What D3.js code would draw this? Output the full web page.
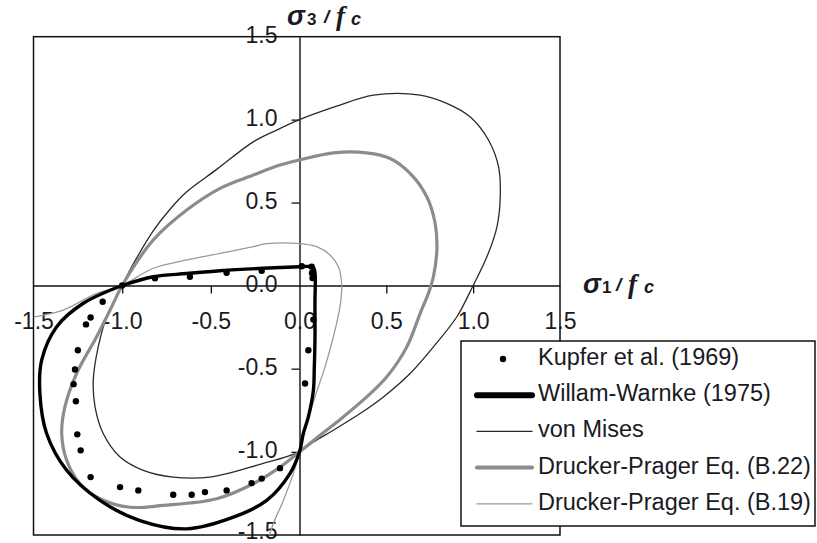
<!DOCTYPE html>
<html>
<head>
<meta charset="utf-8">
<script src="https://cdn.jsdelivr.net/npm/d3@7"></script>
<style>
  html, body { margin: 0; padding: 0; background: #fff; }
  svg { display: block; }
  text { font-family: "Liberation Sans", Arial, sans-serif; fill: #1a1a24; }
</style>
</head>
<body>
<svg id="chart" width="817" height="543"></svg>
<script>
// Biaxial failure envelopes, stresses normalised by fc (σ2 = 0)
const xTicks = [-1.5, -1.0, -0.5, 0.0, 0.5, 1.0, 1.5];
const yTicks = [-1.5, -1.0, -0.5, 0.0, 0.5, 1.0, 1.5];

const seriesNames = [
  "Kupfer et al. (1969)",
  "Willam-Warnke (1975)",
  "von Mises",
  "Drucker-Prager Eq. (B.22)",
  "Drucker-Prager Eq. (B.19)"
];

// Kupfer et al. test points [σ1/fc, σ3/fc]
const kupfer = [
  [-1.0, 0.0], [-0.815, 0.043], [-0.618, 0.053], [-0.411, 0.077], [-0.213, 0.089],
  [0.013, 0.116], [0.07, 0.113], [0.072, 0.075], [0.075, 0.045],
  [0.08, -0.205], [0.051, -0.389], [0.032, -0.589],
  [-0.110, -1.098], [-0.213, -1.161], [-0.270, -1.188], [-0.411, -1.232], [-0.533, -1.242],
  [-0.608, -1.258], [-0.712, -1.258], [-0.909, -1.232], [-1.012, -1.212], [-1.178, -1.152],
  [-1.234, -0.991], [-1.253, -0.895], [-1.261, -0.696], [-1.274, -0.593], [-1.266, -0.505],
  [-1.250, -0.389], [-1.204, -0.234], [-1.178, -0.192], [-1.110, -0.098]
];

// Willam-Warnke (1975) envelope
const willamWarnke = [
  [-1.0, 0.0], [-0.825, 0.053], [-0.636, 0.072], [-0.448, 0.089], [-0.204, 0.104],
  [0.0, 0.113], [0.05, 0.115], [0.08, 0.108], [0.089, 0.08], [0.089, -0.1],
  [0.089, -0.328], [0.085, -0.5], [0.080, -0.630], [0.051, -0.790], [0.022, -0.890],
  [0.0, -1.0], [-0.054, -1.131], [-0.185, -1.292], [-0.373, -1.393], [-0.636, -1.463],
  [-0.900, -1.413], [-1.125, -1.292], [-1.313, -1.111], [-1.426, -0.890], [-1.464, -0.649],
  [-1.454, -0.449], [-1.369, -0.248], [-1.219, -0.107], [-1.0, 0.0]
];

// von Mises envelope (closed)
const vonMises = [
  [-1.0, 0.0], [-0.937, 0.13], [-0.825, 0.33], [-0.730, 0.46], [-0.636, 0.565],
  [-0.467, 0.70], [-0.261, 0.866], [-0.129, 0.937], [0.0, 1.0], [0.214, 1.081],
  [0.425, 1.148], [0.695, 1.148], [0.848, 1.098], [0.982, 1.017], [1.088, 0.877],
  [1.146, 0.716], [1.156, 0.535], [1.137, 0.354], [1.079, 0.173], [1.0, 0.0],
  [0.906, -0.188], [0.771, -0.369], [0.637, -0.529], [0.483, -0.670], [0.349, -0.770],
  [0.195, -0.870], [0.080, -0.941], [0.0, -1.0], [-0.223, -1.075], [-0.505, -1.152],
  [-0.712, -1.152], [-0.881, -1.111], [-1.012, -1.031], [-1.107, -0.890], [-1.153, -0.730],
  [-1.163, -0.569], [-1.135, -0.369], [-1.087, -0.188]
];

// Drucker-Prager Eq. (B.22) envelope (closed)
const druckerPragerB22 = [
  [-1.0, 0.0], [-0.825, 0.274], [-0.636, 0.455], [-0.448, 0.586], [-0.261, 0.666],
  [-0.110, 0.726], [0.061, 0.772], [0.195, 0.800], [0.387, 0.800], [0.522, 0.766],
  [0.637, 0.676], [0.733, 0.535], [0.781, 0.375], [0.791, 0.214], [0.771, 0.053],
  [0.745, -0.04], [0.695, -0.167], [0.618, -0.369], [0.503, -0.549], [0.387, -0.670],
  [0.252, -0.790], [0.118, -0.901], [0.0, -1.0], [-0.110, -1.092], [-0.261, -1.192],
  [-0.467, -1.282], [-0.768, -1.322], [-0.956, -1.333], [-1.125, -1.282], [-1.238, -1.192],
  [-1.313, -1.051], [-1.341, -0.890], [-1.323, -0.730], [-1.257, -0.529], [-1.144, -0.308],
  [-1.059, -0.128]
];

// Drucker-Prager Eq. (B.19) envelope (open)
const druckerPragerB19 = [
  [-1.5, -0.19], [-1.332, -0.148], [-1.144, -0.047], [-1.0, 0.0], [-0.825, 0.104],
  [-0.636, 0.154], [-0.448, 0.194], [-0.261, 0.234], [-0.185, 0.252], [-0.016, 0.254],
  [0.099, 0.234], [0.176, 0.184], [0.224, 0.113], [0.243, 0.003], [0.233, -0.128],
  [0.195, -0.308], [0.147, -0.489], [0.089, -0.670], [0.041, -0.830], [0.0, -1.0],
  [-0.035, -1.131], [-0.091, -1.292], [-0.148, -1.432], [-0.175, -1.52]
];

const svg = d3.select("#chart");
// plain hyphen-minus for negative tick labels
const fmt = d3.formatLocale({ decimal: ".", thousands: ",", grouping: [3], currency: ["", ""], minus: "-" }).format(".1f");

const x = d3.scaleLinear().domain([-1.5, 0, 1.5]).range([33.5, 299.5, 560]);
const y = d3.scaleLinear().domain([-1.5, 0, 1.5]).range([535, 285.5, 36.7]);

svg.append("defs").append("clipPath").attr("id", "plotClip")
  .append("rect")
  .attr("x", x(-1.5)).attr("y", y(1.5))
  .attr("width", x(1.5) - x(-1.5)).attr("height", y(-1.5) - y(1.5));

// Tick labels along the axes through the origin
const xAxis = svg.append("g")
  .attr("transform", `translate(0,${y(0)})`)
  .call(d3.axisBottom(x).tickValues(xTicks).tickFormat(fmt).tickSize(8).tickSizeOuter(0).tickPadding(19));
const yAxis = svg.append("g")
  .attr("transform", `translate(${x(0)},0)`)
  .call(d3.axisLeft(y).tickValues(yTicks).tickFormat(fmt).tickSize(8).tickSizeOuter(0).tickPadding(14));

[xAxis, yAxis].forEach(g => {
  g.attr("font-family", null).attr("font-size", null);
  g.select(".domain").attr("stroke", "#111").attr("stroke-width", 1.4);
  g.selectAll(".tick line").attr("stroke", "#111").attr("stroke-width", 1.3);
  g.selectAll(".tick text").style("font-size", "23px").attr("fill", "#1a1a24");
});
yAxis.selectAll(".tick text").attr("dy", d => d === -1.5 ? "0.14em" : "0.26em");
// no tick marks at the frame edges
xAxis.selectAll(".tick").filter(d => Math.abs(d) === 1.5 || d === 0).select("line").remove();
yAxis.selectAll(".tick").filter(d => Math.abs(d) === 1.5 || d === 0).select("line").remove();

// Frame
svg.append("rect")
  .attr("x", x(-1.5)).attr("y", y(1.5))
  .attr("width", x(1.5) - x(-1.5)).attr("height", y(-1.5) - y(1.5))
  .attr("fill", "none").attr("stroke", "#111").attr("stroke-width", 1.5);

const plot = svg.append("g").attr("clip-path", "url(#plotClip)");

const lineOpen = d3.line().x(d => x(d[0])).y(d => y(d[1])).curve(d3.curveCatmullRom.alpha(0.5));
const lineClosed = d3.line().x(d => x(d[0])).y(d => y(d[1])).curve(d3.curveCatmullRomClosed.alpha(0.5));

plot.append("path").datum(druckerPragerB19)
  .attr("d", lineOpen).attr("fill", "none").attr("stroke", "#9a9a9a").attr("stroke-width", 1.3);

plot.append("path").datum(vonMises)
  .attr("d", lineClosed).attr("fill", "none").attr("stroke", "#2a2a2a").attr("stroke-width", 1.3);

plot.append("path").datum(druckerPragerB22)
  .attr("d", lineClosed).attr("fill", "none").attr("stroke", "#8c8c8c").attr("stroke-width", 3.2);

plot.append("path").datum(willamWarnke)
  .attr("d", lineOpen).attr("fill", "none").attr("stroke", "#000").attr("stroke-width", 3.4)
  .attr("stroke-linejoin", "round");

plot.selectAll("circle.kupfer").data(kupfer).join("circle")
  .attr("class", "kupfer")
  .attr("cx", d => x(d[0])).attr("cy", d => y(d[1])).attr("r", 3.2).attr("fill", "#000");

// Axis titles: σ, index, slash, f, c placed one by one
function axisTitle(x0, base, index, offs) {
  const t = svg.append("text").attr("y", base).attr("font-weight", "bold");
  t.append("tspan").attr("x", x0).attr("font-style", "italic").style("font-size", "27px").text("σ");
  t.append("tspan").attr("x", x0 + offs[0]).style("font-size", "17px").text(index);
  t.append("tspan").attr("x", x0 + offs[1]).attr("font-style", "italic").style("font-size", "19px")
    .attr("dy", -2).text("/");
  t.append("tspan").attr("x", x0 + offs[2]).attr("font-style", "italic").attr("dy", 2)
    .style("font-family", "'Liberation Serif', 'DejaVu Serif', serif").style("font-size", "27px").text("f");
  t.append("tspan").attr("x", x0 + offs[3]).attr("font-style", "italic").style("font-size", "18px").text("c");
}
axisTitle(287, 25, "3", [20, 37, 49, 64]);
axisTitle(583, 293, "1", [19, 33, 45, 61]);

// Legend
const legend = svg.append("g");
legend.append("rect")
  .attr("x", 461).attr("y", 341).attr("width", 354).attr("height", 185)
  .attr("fill", "#fff").attr("stroke", "#111").attr("stroke-width", 1.5);

const legendStyles = [
  { type: "dot" },
  { type: "line", stroke: "#000", width: 6 },
  { type: "line", stroke: "#2a2a2a", width: 1.3 },
  { type: "line", stroke: "#8c8c8c", width: 4 },
  { type: "line", stroke: "#9a9a9a", width: 1.3 }
];

seriesNames.forEach((name, i) => {
  const base = 365 + i * 36.2;
  const st = legendStyles[i];
  if (st.type === "dot") {
    legend.append("circle").attr("cx", 503).attr("cy", base - 6).attr("r", 3.2).attr("fill", "#000");
  } else {
    legend.append("line")
      .attr("x1", 477).attr("x2", 532).attr("y1", base - 6).attr("y2", base - 6)
      .attr("stroke", st.stroke).attr("stroke-width", st.width).attr("stroke-linecap", "round");
  }
  legend.append("text").attr("x", 538).attr("y", base)
    .style("font-size", "23.5px").text(name);
});
</script>
</body>
</html>
